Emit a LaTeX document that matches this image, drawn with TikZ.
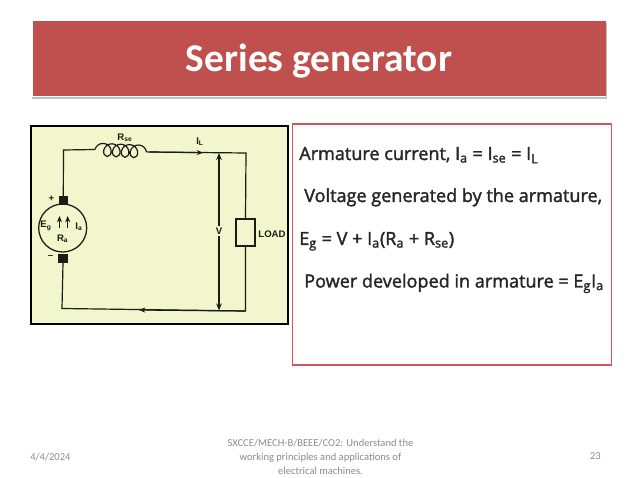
\documentclass[tikz,border=0pt]{standalone}
\usepackage{fontspec}
\setmainfont{Carlito}
\newfontfamily\bodyfont[FakeBold=1.8]{Open Sans}
\newfontfamily\labelfont{Liberation Sans}
\usepackage{xcolor}
\usepackage{tikz}
\usetikzlibrary{calc}
\usetikzlibrary{arrows.meta}
\usetikzlibrary{decorations.pathmorphing}
\definecolor{barred}{HTML}{C0504D}
\definecolor{boxred}{HTML}{D2555A}
\definecolor{panelyellow}{HTML}{F1F6CC}
\definecolor{wirecol}{HTML}{1C1C14}
\definecolor{footgray}{HTML}{8B8B8B}
\tikzset{
  wire/.style={draw=wirecol,line width=0.85pt},
  txt/.style={anchor=base west,inner sep=0pt,font=\bodyfont\fontsize{12.85}{14}\selectfont,text=black!85},
  lbl/.style={inner sep=0pt,font=\labelfont\fontsize{6.8}{8}\selectfont\bfseries,text=wirecol},
  foot/.style={inner sep=0pt,font=\fontsize{7.5}{10}\selectfont,text=footgray,align=center},
  brush/.style={fill=wirecol,draw=none,minimum width=6.5pt,minimum height=6pt,inner sep=0pt},
  pointer/.style={-{Stealth[length=4.5pt,width=3.6pt]}},
}
\begin{document}
\begin{tikzpicture}[x=0.025cm,y=-0.025cm]
\useasboundingbox (0,0) rectangle (638,478);

\fill[black!25] (32,23) rectangle (607,99);						% title shadow
\fill[white] (31,19) rectangle (606,97);
\node[fill=barred,minimum width=573*0.025cm,minimum height=75*0.025cm,inner sep=0pt] (bar) at (319.5,59) {};
\node[font=\fontsize{28}{32}\selectfont\bfseries,text=white,inner sep=0pt] (title) at (319,61.5) {Series generator};

\node[draw=black,line width=1.3pt,fill=panelyellow,minimum width=257*0.025cm,minimum height=198*0.025cm,inner sep=0pt] (panel) at (159.5,225) {};

\node[draw=wirecol,line width=0.9pt,circle,minimum size=48*0.025cm,inner sep=0pt] (gen) at (62.7,228) {};
\node[brush] (top) at (63.3,200.5) {};
\node[brush] (bot) at (63,258.5) {};
\node[draw=wirecol,line width=0.85pt,fill=panelyellow,minimum width=19*0.025cm,minimum height=27*0.025cm,inner sep=0pt] (load) at (245.5,232.5) {};

\coordinate (cl) at (95,149.5);
\coordinate (cr) at (150,152);
\coordinate (tl) at (63.5,150);
\coordinate (tr) at (246,153);
\coordinate (bl) at (62,308.5);
\coordinate (br) at (245.5,311);
\coordinate (vt) at (219,153);
\coordinate (vb) at (219,310.5);

\draw[wire] (top.north) -- (tl) -- (cl);						% left and top wire
\draw[wire,decorate,decoration={coil,aspect=0.9,segment length=6.3pt,amplitude=4.6pt}] (cl) -- (cr);	% series field
\draw[wire] (cr) -- (tr) -- (load.north);
\draw[wire] (load.south) -- (br) -- (bl) -- (bot.south);		% bottom wire
\draw[wire,pointer] (cr) -- (203,152.7);						% I_L
\draw[wire,pointer] (br) -- (139,310);						% return current
\draw[wire,{Stealth[length=5pt,width=4pt]}-{Stealth[length=5pt,width=4pt]}] (vt) -- (vb);	% V

\draw[wire,pointer] (59.5,228.5) -- (59.5,216);				% armature arrows
\draw[wire,pointer] (67.7,228.5) -- (67.7,216);

\node[lbl] (rse) at (125,137.5) {R\textsubscript{se}};
\node[lbl] (il) at (200,141.5) {I\textsubscript{L}};
\node[lbl,fill=panelyellow,inner sep=1pt] (v) at (219,231) {V};
\node[lbl] (loadtxt) at (272,234) {LOAD};
\node[lbl] (plus) at (51.5,199) {+};
\node[lbl] (minus) at (50.5,257) {–};
\node[lbl] (eg) at (46,226) {E\textsubscript{g}};
\node[lbl] (ia) at (79,227) {I\textsubscript{a}};
\node[lbl] (ra) at (62.7,239) {R\textsubscript{a}};

\node[draw=boxred,line width=1.1pt,fill=white,minimum width=319*0.025cm,minimum height=241*0.025cm,inner sep=0pt] (textbox) at (452,244.5) {};
\node[txt] (l1) at (299,160) {Armature current, I\textsubscript{a} = I\textsubscript{se} = I\textsubscript{L}};
\node[txt] (l2) at (304,202) {Voltage generated by the armature,};
\node[txt] (l3) at (299,245) {E\textsubscript{g} = V + I\textsubscript{a}(R\textsubscript{a} + R\textsubscript{se})};
\node[txt] (l4) at (304,287.5) {Power developed in armature = E\textsubscript{g}I\textsubscript{a}};

\node[foot,anchor=west] (date) at (30,457) {4/4/2024};
\node[foot] (course) at (320.5,457) {SXCCE/MECH-B/BEEE/CO2: Understand the\\working principles and applications of\\electrical machines.};
\node[foot,anchor=east] (page) at (601,456) {23};

\end{tikzpicture}
\end{document}
